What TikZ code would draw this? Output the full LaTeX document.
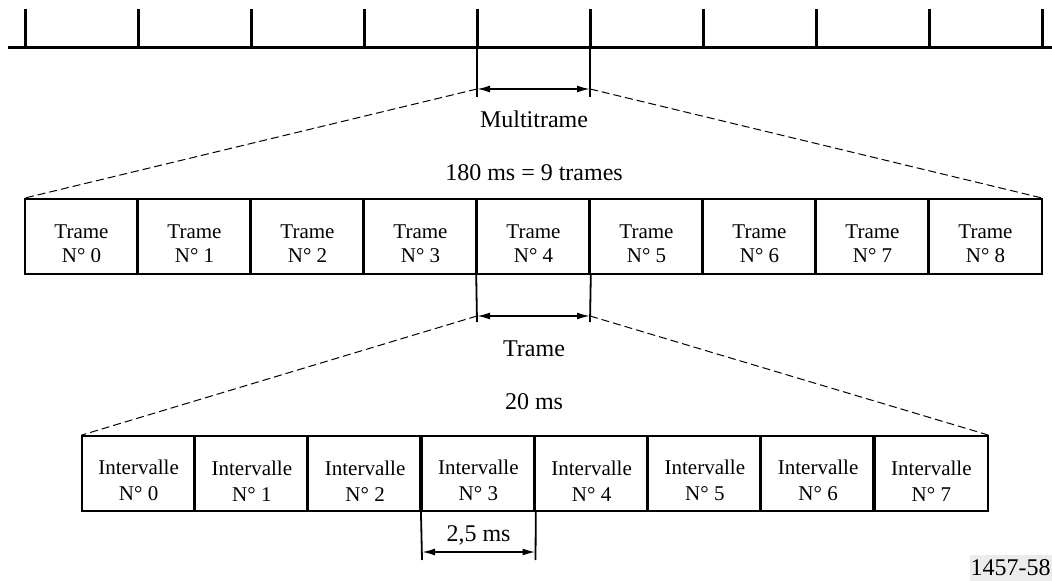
\documentclass[tikz,border=0pt]{standalone}
\usepackage{fontspec}
\setmainfont{Liberation Serif}
\usetikzlibrary{arrows.meta}
\newcommand{\decale}{\rule{0pt}{14.5pt}}
\tikzset{
  texte/.style={font=\fontsize{12}{14}\selectfont},
  trame/.style={draw,line width=0.8pt,minimum width=56.5pt,minimum height=37.5pt,inner sep=0pt,align=center,font=\fontsize{10.5}{12}\selectfont},
  intervalle/.style={trame,minimum width=56.625pt,font=\fontsize{10.5}{13}\selectfont},
  fleche/.style={{Latex[length=6.5pt,width=3.5pt]}-{Latex[length=6.5pt,width=3.5pt]},line width=0.9pt},
  renvoi/.style={dash pattern=on 4pt off 2pt,line width=0.5pt}
}
\begin{document}
\begin{tikzpicture}[x=0.5pt,y=-0.5pt]
\useasboundingbox (0,0) rectangle (1052,581);
\coordinate (axe0) at (8,48);
\coordinate (axe1) at (1052,48);
\draw[line width=1.5pt] (axe0) -- (axe1);
\foreach \i in {0,...,9} {
  \coordinate (t\i) at (25+113*\i,48);
  \draw[line width=1.5pt] (t\i) -- ++(0,-39);
}
\node[texte] (multi) at (534,119) {Multitrame};
\node[texte] (duree1) at (534,173) {180 ms = 9 trames};
\foreach \i in {0,...,8}
  \node[trame] (f\i) at (81.5+113*\i,236.5) {\decale Trame\\N° \i};
\foreach \i in {1,...,8}
  \draw[line width=1.5pt] (f\i.north west) -- (f\i.south west);
\coordinate (m0) at (477,97);
\coordinate (m1) at (590,97);
\coordinate (a0) at (477,89);
\coordinate (a1) at (590,89);
\draw[line width=0.9pt] (t4) -- (m0);
\draw[line width=0.9pt] (t5) -- (m1);
\draw[fleche] (a0) -- (a1);
\draw[renvoi] (a0) -- (f0.north west);
\draw[renvoi] (a1) -- (f8.north east);
\node[texte] (trm) at (534,349) {Trame};
\node[texte] (duree2) at (534,402) {20 ms};
\foreach \i in {0,...,7}
  \node[intervalle] (i\i) at (138.625+113.25*\i,473.5) {\decale Intervalle\\N° \i};
\foreach \i in {1,...,7}
  \draw[line width=1.5pt] (i\i.north west) -- (i\i.south west);
\coordinate (g0) at (477,322);
\coordinate (g1) at (590,322);
\coordinate (b0) at (477,316);
\coordinate (b1) at (590,316);
\draw[line width=0.9pt] (f4.south west) -- (g0);
\draw[line width=0.9pt] (f4.south east) -- (g1);
\draw[fleche] (b0) -- (b1);
\draw[renvoi] (b0) -- (i0.north west);
\draw[renvoi] (b1) -- (i7.north east);
\coordinate (h0) at (422,560);
\coordinate (h1) at (535.5,560);
\coordinate (c0) at (422,552);
\coordinate (c1) at (535.5,552);
\draw[line width=0.9pt] (i3.south west) -- (h0);
\draw[line width=0.9pt] (i3.south east) -- (h1);
\draw[fleche] (c0) -- (c1);
\node[texte] (duree3) at (478.5,535) {2,5 ms};
\node[texte,fill=gray!15,minimum width=41pt,minimum height=13pt,inner sep=0pt,anchor=south east] (ref) at (1052,581) {1457-58};
\end{tikzpicture}
\end{document}
